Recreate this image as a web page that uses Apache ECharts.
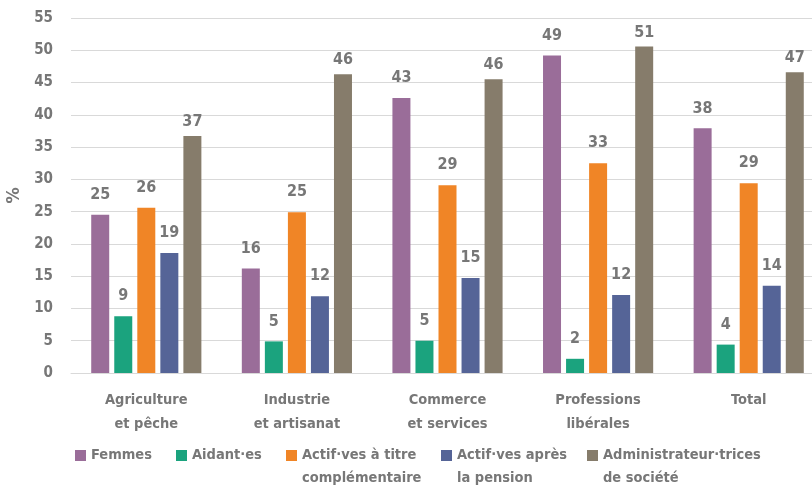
<!DOCTYPE html>
<html><head><meta charset="utf-8">
<script src="https://cdn.jsdelivr.net/npm/echarts@6/dist/echarts.min.js"></script>
<style>html,body{margin:0;padding:0;background:#fff}#c{width:812px;height:488px}</style>
</head><body><div id="c"></div>
<script>
const categories = ['Agriculture\net pêche', 'Industrie\net artisanat', 'Commerce\net services', 'Professions\nlibérales', 'Total'];
const femmes = [24.5, 16.2, 42.6, 49.2, 37.9];
const aidants = [8.8, 4.9, 5.0, 2.2, 4.4];
const complementaire = [25.6, 24.9, 29.1, 32.5, 29.4];
const pension = [18.6, 11.9, 14.7, 12.1, 13.5];
const administrateurs = [36.7, 46.3, 45.5, 50.6, 46.6];
const seriesNames = ['Femmes', 'Aidant·es', 'Actif·ves à titre\ncomplémentaire', 'Actif·ves après\nla pension', 'Administrateur·trices\nde société'];
const colors = ['#9a6d99', '#1ba37e', '#f08526', '#556497', '#867c6b'];
const yTicks = [0, 5, 10, 15, 20, 25, 30, 35, 40, 45, 50, 55];

const FONT = '"DejaVu Sans Condensed", "Liberation Sans Narrow", sans-serif';
const GREY = '#777777';
const values = [femmes, aidants, complementaire, pension, administrateurs];
const legendLeft = [75, 176, 286, 441, 587];
const iconPath = 'path://M0,0 M0,6 h11 v11 h-11 z M0,46';

const chart = echarts.init(document.getElementById('c'), null, {renderer: 'canvas'});
chart.setOption({
  animation: false,
  color: colors,
  textStyle: {fontFamily: FONT},
  grid: {left: 71, right: -12, top: 18, bottom: 115, containLabel: false, outerBoundsMode: 'none'},
  legend: seriesNames.map((n, i) => ({
    left: legendLeft[i], top: 444, data: [n], selectedMode: false,
    itemWidth: 11, itemHeight: 46, icon: iconPath, padding: 0,
    formatter: s => s.indexOf('\n') < 0 ? s + '\n ' : s,
    textStyle: {fontFamily: FONT, fontWeight: 'bold', fontSize: 14.5, color: GREY, lineHeight: 23}
  })),
  xAxis: {
    type: 'category', data: categories,
    axisTick: {show: false},
    axisLine: {lineStyle: {color: '#d9d9d9', width: 1}},
    axisLabel: {interval: 0, margin: 15, fontFamily: FONT, fontWeight: 'bold', fontSize: 14.5, color: GREY, lineHeight: 24}
  },
  yAxis: {
    type: 'value', min: yTicks[0], max: yTicks[yTicks.length - 1], interval: 5,
    name: '%', nameLocation: 'middle', nameGap: 44, nameRotate: 90,
    nameTextStyle: {fontFamily: FONT, fontWeight: 'bold', fontSize: 18, color: GREY},
    axisLine: {show: false}, axisTick: {show: false},
    axisLabel: {margin: 18, fontFamily: FONT, fontWeight: 'bold', fontSize: 15, color: GREY},
    splitLine: {lineStyle: {color: '#d9d9d9', width: 1}}
  },
  series: seriesNames.map((n, i) => ({
    name: n, type: 'bar', data: values[i],
    barWidth: 18, barGap: '28%',
    itemStyle: {color: colors[i]},
    label: {
      show: true, position: 'top', distance: i === 4 ? 6 : 12,
      formatter: p => Math.round(p.value),
      fontFamily: FONT, fontWeight: 'bold', fontSize: 16, color: GREY
    }
  }))
});
</script></body></html>
